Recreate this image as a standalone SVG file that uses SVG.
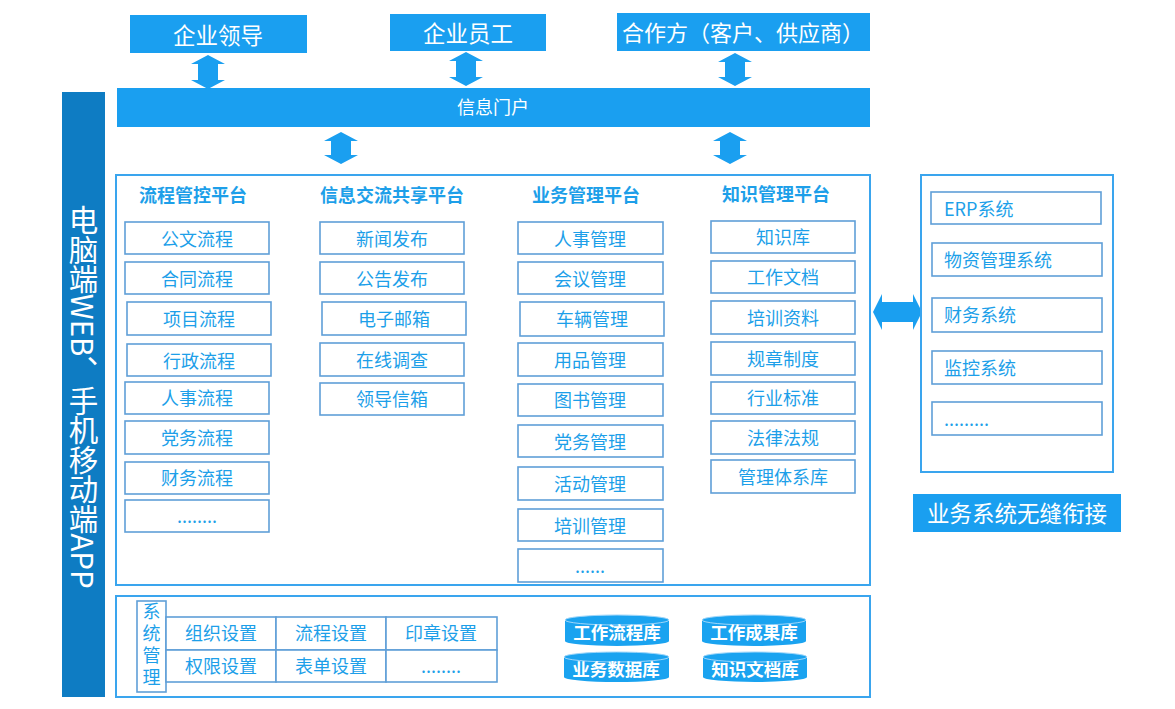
<svg xmlns="http://www.w3.org/2000/svg" width="1175" height="709" viewBox="0 0 1175 709">
<defs>
<style>
text{font-family:"Noto Sans CJK SC","Liberation Sans",sans-serif;}
.fill{fill:#1a9ff0;}
.wt{fill:#ffffff;text-anchor:middle;dominant-baseline:central;}
.bt{fill:#1d9fe9;text-anchor:middle;dominant-baseline:central;font-size:18px;}
.hd{fill:#1d9fe9;text-anchor:middle;dominant-baseline:central;font-size:18px;font-weight:bold;}
.lt{fill:#1d9fe9;dominant-baseline:central;font-size:18px;}
.box{fill:#ffffff;stroke:#5f9fd8;stroke-width:1.6;}
.frame{fill:#ffffff;stroke:#3aa5ee;stroke-width:2;}
.arr{fill:#1a9ff0;}
.cyl{fill:#1aa3f0;}
.cyltop{fill:none;stroke:#9fd6fa;stroke-width:1;}
.ct{fill:#ffffff;text-anchor:middle;dominant-baseline:central;font-size:17.5px;font-weight:bold;}
</style>
</defs>

<rect x="0" y="0" width="1175" height="709" fill="#ffffff"/>

<!-- left bar -->
<g id="left-bar">
<rect x="62" y="92" width="43" height="605" fill="#0e7cc3"/>
<text x="83.5" y="397" fill="#ffffff" font-size="29.5" text-anchor="middle" style="writing-mode:vertical-rl;">电脑端WEB、手机移动端APP</text>
</g>

<!-- top users -->
<g id="node-leader">
<rect x="130" y="15" width="177" height="38" class="fill"/>
<text x="218" y="34" class="wt" font-size="22.5">企业领导</text>
</g>
<g id="node-staff">
<rect x="390" y="14" width="156" height="37" class="fill"/>
<text x="468" y="32" class="wt" font-size="22.5">企业员工</text>
</g>
<g id="node-partner">
<rect x="617" y="13" width="253" height="38" class="fill"/>
<text x="743" y="31" class="wt" font-size="22">合作方（客户、供应商）</text>
</g>

<!-- portal -->
<g id="node-portal">
<rect x="117" y="88" width="753" height="39" class="fill"/>
<text x="493" y="106" class="wt" font-size="18">信息门户</text>
</g>

<!-- connectors -->
<g id="connectors">
<polygon class="arr" points="208,55 225,64 218,64 218,80 225,80 208,89 191,80 198,80 198,64 191,64"/>
<polygon class="arr" points="466,52 483,61 476,61 476,77 483,77 466,86 449,77 456,77 456,61 449,61"/>
<polygon class="arr" points="735,53 752,62 745,62 745,77 752,77 735,86 718,77 725,77 725,62 718,62"/>
<polygon class="arr" points="341,132 358,141 351,141 351,155 358,155 341,164 324,155 331,155 331,141 324,141"/>
<polygon class="arr" points="730,132 747,141 740,141 740,155 747,155 730,164 713,155 720,155 720,141 713,141"/>
<polygon class="arr" points="873,312 882,294 882,302 913,302 913,294 922,312 913,330 913,322 882,322 882,330"/>
</g>

<!-- main frame -->
<g id="main-frame">
<rect x="116" y="175" width="754" height="410" class="frame"/>
<text x="193" y="194" class="hd">流程管控平台</text>
<text x="392" y="194" class="hd">信息交流共享平台</text>
<text x="586" y="194" class="hd">业务管理平台</text>
<text x="776" y="193" class="hd">知识管理平台</text>
</g>

<!-- column 1 -->
<g id="col-process">
<rect x="125" y="222" width="144" height="32" class="box"/><text x="197" y="238" class="bt">公文流程</text>
<rect x="125" y="262" width="144" height="32" class="box"/><text x="197" y="278" class="bt">合同流程</text>
<rect x="127" y="302" width="144" height="33" class="box"/><text x="199" y="318" class="bt">项目流程</text>
<rect x="127" y="344" width="144" height="32" class="box"/><text x="199" y="360" class="bt">行政流程</text>
<rect x="125" y="382" width="144" height="32" class="box"/><text x="197" y="397" class="bt">人事流程</text>
<rect x="125" y="421" width="144" height="33" class="box"/><text x="197" y="437" class="bt">党务流程</text>
<rect x="125" y="462" width="144" height="32" class="box"/><text x="197" y="477" class="bt">财务流程</text>
<rect x="125" y="500" width="144" height="32" class="box"/><text x="197" y="515" class="bt">........</text>
</g>

<!-- column 2 -->
<g id="col-info">
<rect x="320" y="222" width="144" height="32" class="box"/><text x="392" y="238" class="bt">新闻发布</text>
<rect x="320" y="262" width="144" height="32" class="box"/><text x="392" y="278" class="bt">公告发布</text>
<rect x="322" y="302" width="144" height="33" class="box"/><text x="394" y="318" class="bt">电子邮箱</text>
<rect x="320" y="343" width="144" height="33" class="box"/><text x="392" y="359" class="bt">在线调查</text>
<rect x="320" y="383" width="144" height="32" class="box"/><text x="392" y="398" class="bt">领导信箱</text>
</g>

<!-- column 3 -->
<g id="col-business">
<rect x="518" y="222" width="145" height="32" class="box"/><text x="590" y="238" class="bt">人事管理</text>
<rect x="518" y="262" width="145" height="32" class="box"/><text x="590" y="278" class="bt">会议管理</text>
<rect x="520" y="302" width="144" height="34" class="box"/><text x="592" y="318" class="bt">车辆管理</text>
<rect x="518" y="343" width="145" height="33" class="box"/><text x="590" y="359" class="bt">用品管理</text>
<rect x="518" y="384" width="145" height="32" class="box"/><text x="590" y="399" class="bt">图书管理</text>
<rect x="518" y="425" width="145" height="32" class="box"/><text x="590" y="441" class="bt">党务管理</text>
<rect x="518" y="467" width="145" height="33" class="box"/><text x="590" y="483" class="bt">活动管理</text>
<rect x="518" y="509" width="145" height="32" class="box"/><text x="590" y="525" class="bt">培训管理</text>
<rect x="518" y="549" width="145" height="33" class="box"/><text x="590" y="565" class="bt">......</text>
</g>

<!-- column 4 -->
<g id="col-knowledge">
<rect x="711" y="221" width="144" height="32" class="box"/><text x="783" y="236" class="bt">知识库</text>
<rect x="711" y="261" width="144" height="32" class="box"/><text x="783" y="276" class="bt">工作文档</text>
<rect x="711" y="301" width="144" height="33" class="box"/><text x="783" y="317" class="bt">培训资料</text>
<rect x="711" y="342" width="144" height="33" class="box"/><text x="783" y="358" class="bt">规章制度</text>
<rect x="711" y="382" width="144" height="32" class="box"/><text x="783" y="397" class="bt">行业标准</text>
<rect x="711" y="421" width="144" height="33" class="box"/><text x="783" y="437" class="bt">法律法规</text>
<rect x="711" y="460" width="144" height="33" class="box"/><text x="783" y="476" class="bt">管理体系库</text>
</g>

<!-- external systems -->
<g id="external-systems">
<rect x="921" y="175" width="192" height="297" class="frame"/>
<rect x="931" y="192" width="170" height="32" class="box"/><text x="944" y="208" class="lt">ERP系统</text>
<rect x="932" y="243" width="170" height="33" class="box"/><text x="944" y="259" class="lt">物资管理系统</text>
<rect x="932" y="298" width="170" height="34" class="box"/><text x="944" y="314" class="lt">财务系统</text>
<rect x="932" y="351" width="170" height="33" class="box"/><text x="944" y="367" class="lt">监控系统</text>
<rect x="932" y="402" width="170" height="33" class="box"/><text x="944" y="418" class="lt">.........</text>
</g>

<g id="node-seamless">
<rect x="913" y="494" width="208" height="38" class="fill"/>
<text x="1017" y="512" class="wt" font-size="22.5">业务系统无缝衔接</text>
</g>

<!-- bottom frame -->
<g id="bottom-frame">
<rect x="116" y="596" width="754" height="101" class="frame"/>
</g>

<g id="system-management">
<rect x="137" y="601" width="29" height="91" class="box"/>
<text x="151.5" y="646" fill="#1d9fe9" font-size="18" text-anchor="middle" letter-spacing="4" style="writing-mode:vertical-rl;">系统管理</text>
<rect x="166" y="617" width="110" height="33" class="box"/><text x="221" y="632" class="bt">组织设置</text>
<rect x="276" y="617" width="110" height="33" class="box"/><text x="331" y="632" class="bt">流程设置</text>
<rect x="386" y="617" width="111" height="33" class="box"/><text x="441" y="632" class="bt">印章设置</text>
<rect x="166" y="650" width="110" height="32" class="box"/><text x="221" y="665" class="bt">权限设置</text>
<rect x="276" y="650" width="110" height="32" class="box"/><text x="331" y="665" class="bt">表单设置</text>
<rect x="386" y="650" width="111" height="32" class="box"/><text x="441" y="665" class="bt">........</text>
</g>

<!-- databases -->
<g id="db-workflow">
<path class="cyl" d="M565,620 A52,5 0 0 1 669,620 V641 A52,5 0 0 1 565,641 Z"/>
<ellipse class="cyltop" cx="617" cy="620" rx="52" ry="5"/>
<text x="617" y="631" class="ct">工作流程库</text>
</g>
<g id="db-results">
<path class="cyl" d="M702,620 A52,5 0 0 1 806,620 V641 A52,5 0 0 1 702,641 Z"/>
<ellipse class="cyltop" cx="754" cy="620" rx="52" ry="5"/>
<text x="754" y="631" class="ct">工作成果库</text>
</g>
<g id="db-business">
<path class="cyl" d="M564,657 A52,5 0 0 1 669,657 V677 A52,5 0 0 1 564,677 Z"/>
<ellipse class="cyltop" cx="616.5" cy="657" rx="52.5" ry="5"/>
<text x="616" y="668" class="ct">业务数据库</text>
</g>
<g id="db-knowledge">
<path class="cyl" d="M703,657 A52,5 0 0 1 807,657 V677 A52,5 0 0 1 703,677 Z"/>
<ellipse class="cyltop" cx="755" cy="657" rx="52" ry="5"/>
<text x="755" y="668" class="ct">知识文档库</text>
</g>
</svg>
